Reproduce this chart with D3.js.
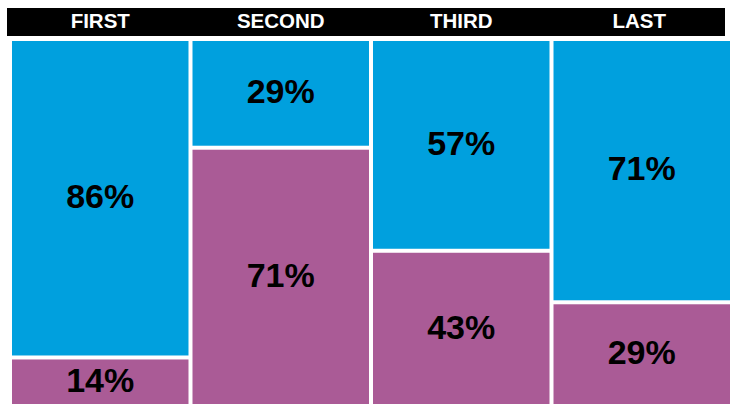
<!DOCTYPE html>
<html>
<head>
<meta charset="utf-8">
<script src="https://cdn.jsdelivr.net/npm/d3@7"></script>
<style>
  body { margin: 0; background: #fff; }
  text { font-family: "Liberation Sans", Arial, sans-serif; font-weight: bold; }
</style>
</head>
<body>
<div id="chart-area"></div>
<script>
// data
const categories = ["FIRST", "SECOND", "THIRD", "LAST"]
const topValues = [86, 29, 57, 71]     // blue
const bottomValues = [14, 71, 43, 29]  // purple

const WIDTH = 731
const HEIGHT = 404
const BLUE = "#00a0de"
const PURPLE = "#aa5b96"
const GAP = 2

const svg = d3.select("#chart-area").append("svg")
  .attr("width", WIDTH)
  .attr("height", HEIGHT)

// header bar
const header = { x0: 7, x1: 725, y0: 8, y1: 36 }
svg.append("rect")
  .attr("x", header.x0)
  .attr("y", header.y0)
  .attr("width", header.x1 - header.x0)
  .attr("height", header.y1 - header.y0)
  .attr("fill", "#000")

const x = d3.scaleBand()
  .domain(categories)
  .range([12, 730])
  .paddingInner(0.0222)

const y = d3.scaleLinear()
  .domain([0, 100])
  .range([41, 409])

const data = categories.map((c, i) => ({ cat: c, top: topValues[i], bottom: bottomValues[i] }))

// header labels, centred on the visible part of each column
svg.selectAll(".head")
  .data(categories)
  .enter().append("text")
  .attr("class", "head")
  .attr("x", d => (x(d) + Math.min(x(d) + x.bandwidth(), header.x1)) / 2)
  .attr("y", 21)
  .attr("dy", "0.35em")
  .attr("text-anchor", "middle")
  .attr("fill", "#fff")
  .attr("font-size", "20.5px")
  .text(d => d)

const cols = svg.selectAll(".col")
  .data(data)
  .enter().append("g")
  .attr("class", "col")
  .attr("transform", d => `translate(${x(d.cat)},0)`)

// blue (top)
cols.append("rect")
  .attr("x", 0)
  .attr("y", y(0))
  .attr("width", x.bandwidth())
  .attr("height", d => y(d.top) - y(0) - GAP)
  .attr("fill", BLUE)

// purple (bottom)
cols.append("rect")
  .attr("x", 0)
  .attr("y", d => y(d.top) + GAP)
  .attr("width", x.bandwidth())
  .attr("height", d => y(100) - y(d.top) - GAP)
  .attr("fill", PURPLE)

cols.append("text")
  .attr("x", x.bandwidth() / 2)
  .attr("y", d => (y(0) + y(d.top)) / 2)
  .attr("dy", "0.26em")
  .attr("text-anchor", "middle")
  .attr("font-size", "34px")
  .attr("fill", "#000")
  .text(d => d.top + "%")

cols.append("text")
  .attr("x", x.bandwidth() / 2)
  .attr("y", d => (y(d.top) + y(100)) / 2)
  .attr("dy", "0.26em")
  .attr("text-anchor", "middle")
  .attr("font-size", "34px")
  .attr("fill", "#000")
  .text(d => d.bottom + "%")
</script>
</body>
</html>
